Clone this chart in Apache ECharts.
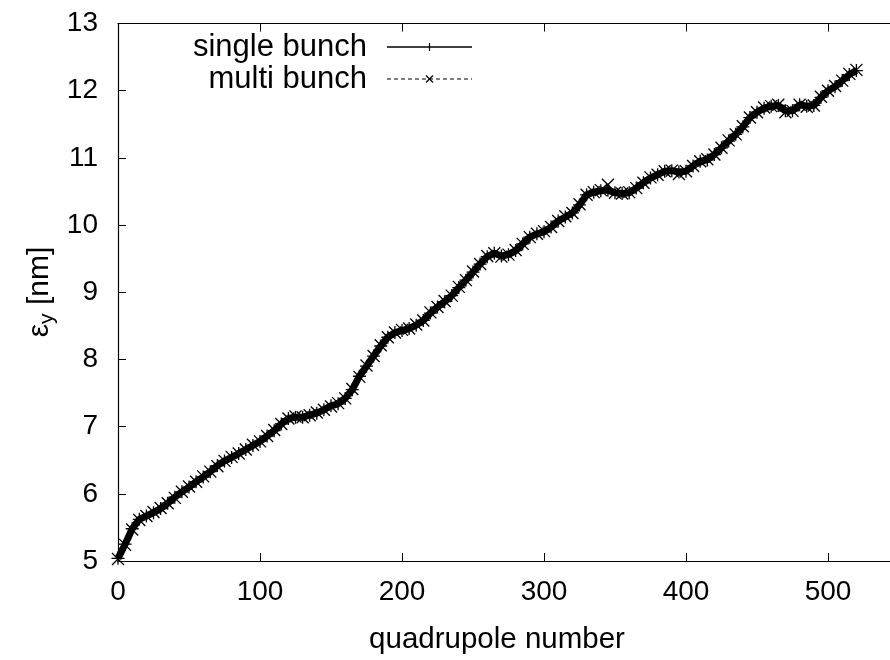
<!DOCTYPE html>
<html>
<head>
<meta charset="utf-8">
<script src="https://cdn.jsdelivr.net/npm/echarts@6/dist/echarts.min.js"></script>
<style>html,body{margin:0;padding:0;background:#fff}#c{width:890px;height:660px}</style>
</head>
<body>
<div id="c"></div>
<script>
const quadrupoles = [0,5,10,15,20,25,30,35,40,45,50,55,60,65,70,75,80,85,90,95,100,105,110,115,120,125,130,135,140,145,150,155,160,165,170,175,180,185,190,195,200,205,210,215,220,225,230,235,240,245,250,255,260,265,270,275,280,285,290,295,300,305,310,315,320,325,330,335,340,345,350,355,360,365,370,375,380,385,390,395,400,405,410,415,420,425,430,435,440,445,450,455,460,465,470,475,480,485,490,495,500,505,510,515,520];
const singleBunch = [5.04,5.25,5.48,5.62,5.67,5.72,5.78,5.86,5.95,6.03,6.10,6.18,6.25,6.33,6.42,6.49,6.54,6.60,6.66,6.72,6.78,6.86,6.94,7.04,7.12,7.14,7.14,7.17,7.20,7.25,7.31,7.34,7.42,7.55,7.75,7.90,8.05,8.20,8.33,8.40,8.43,8.46,8.51,8.58,8.69,8.78,8.86,8.95,9.07,9.18,9.30,9.42,9.53,9.58,9.54,9.56,9.62,9.72,9.82,9.87,9.90,9.97,10.06,10.12,10.18,10.30,10.45,10.49,10.51,10.52,10.48,10.47,10.48,10.55,10.63,10.70,10.75,10.80,10.81,10.79,10.80,10.88,10.95,10.97,11.05,11.15,11.25,11.35,11.46,11.60,11.68,11.74,11.77,11.78,11.70,11.70,11.79,11.77,11.78,11.90,12.00,12.06,12.15,12.24,12.30];
const multiBunch = [5.03,5.24,5.47,5.61,5.67,5.73,5.79,5.86,5.94,6.03,6.11,6.18,6.26,6.33,6.41,6.49,6.55,6.60,6.66,6.73,6.78,6.86,6.95,7.04,7.12,7.15,7.14,7.17,7.21,7.25,7.30,7.35,7.42,7.56,7.74,7.91,8.05,8.21,8.33,8.40,8.44,8.46,8.52,8.58,8.70,8.78,8.87,8.95,9.08,9.18,9.31,9.42,9.54,9.58,9.53,9.56,9.63,9.72,9.82,9.87,9.91,9.97,10.06,10.13,10.18,10.31,10.45,10.49,10.52,10.60,10.48,10.47,10.49,10.55,10.63,10.71,10.75,10.80,10.81,10.76,10.80,10.88,10.95,10.98,11.05,11.15,11.26,11.35,11.47,11.60,11.68,11.75,11.77,11.79,11.68,11.70,11.79,11.76,11.78,11.91,12.00,12.07,12.15,12.25,12.31];
const xTicks = [0,100,200,300,400,500,600];
const yTicks = [5,6,7,8,9,10,11,12,13];
const seriesNames = ['single bunch','multi bunch'];

const FONT = 'Liberation Sans, Arial, sans-serif';
const plusPath = 'path://M0,5L10,5M5,0L5,10';
const crossPath = 'path://M0,0L10,10M10,0L0,10';

const chart = echarts.init(document.getElementById('c'), null, {renderer:'canvas'});
const gridLeft = 118, gridTop = 23.5, gridBottom = 99;
const xMin = xTicks[0], xMax = xTicks[xTicks.length-1];
const gridRight = 890 - gridLeft - 142 * (xMax - xMin) / 100;

function pairs(xs, ys){ return xs.map((x,i)=>[x, ys[i]]); }

const axisLine = {show:true, lineStyle:{color:'#000', width:1.2}};
const option = {
  animation:false,
  backgroundColor:'#fff',
  grid:{left:gridLeft, top:gridTop, right:gridRight, bottom:gridBottom, containLabel:false, outerBoundsMode:'none'},
  xAxis:[{
    type:'value', min:xMin, max:xMax, interval:100, position:'bottom',
    axisLine:axisLine,
    axisTick:{show:true, inside:true, length:8, lineStyle:{color:'#000'}},
    axisLabel:{show:true, color:'#000', fontFamily:FONT, fontSize:28, margin:17,
      formatter:v=> xTicks.includes(v) ? String(v) : ''},
    splitLine:{show:false}
  },{
    type:'value', min:xMin, max:xMax, interval:100, position:'top',
    axisLine:axisLine,
    axisTick:{show:true, inside:true, length:8, lineStyle:{color:'#000'}},
    axisLabel:{show:false}, splitLine:{show:false}
  }],
  yAxis:[{
    type:'value', min:yTicks[0], max:yTicks[yTicks.length-1], interval:1,
    axisLine:axisLine,
    axisTick:{show:true, inside:true, length:8, lineStyle:{color:'#000'}},
    axisLabel:{show:true, color:'#000', fontFamily:FONT, fontSize:28, margin:20,
      formatter:v=> yTicks.includes(v) ? String(v) : ''},
    splitLine:{show:false}
  }],
  series:[{
    name:seriesNames[0], type:'line', xAxisIndex:0, yAxisIndex:0,
    data:pairs(quadrupoles, singleBunch),
    symbol:plusPath, symbolSize:13, showSymbol:true,
    lineStyle:{color:'#000', width:7, type:'solid'},
    itemStyle:{color:'rgba(0,0,0,0)', borderColor:'#000', borderWidth:1.3},
    z:3
  },{
    name:seriesNames[1], type:'line', xAxisIndex:0, yAxisIndex:0,
    data:pairs(quadrupoles, multiBunch),
    symbol:crossPath, symbolSize:12, showSymbol:true,
    lineStyle:{color:'#000', width:1.5, type:[4,3]},
    itemStyle:{color:'rgba(0,0,0,0)', borderColor:'#000', borderWidth:1.3},
    z:4
  }],
  graphic:[
    {type:'text', x:367, y:47, style:{text:seriesNames[0], fill:'#000', font:'31px '+FONT, textAlign:'right', textVerticalAlign:'middle'}},
    {type:'line', shape:{x1:387, y1:47, x2:472, y2:47}, style:{stroke:'#000', lineWidth:1.3}},
    {type:'line', shape:{x1:429.5, y1:43, x2:429.5, y2:51}, style:{stroke:'#000', lineWidth:1.2}},
    {type:'text', x:367, y:79, style:{text:seriesNames[1], fill:'#000', font:'31px '+FONT, textAlign:'right', textVerticalAlign:'middle'}},
    {type:'line', shape:{x1:387, y1:79, x2:472, y2:79}, style:{stroke:'#000', lineWidth:1.2, lineDash:[4,3]}},
    {type:'line', shape:{x1:426, y1:75.5, x2:433, y2:82.5}, style:{stroke:'#000', lineWidth:1.2}},
    {type:'line', shape:{x1:433, y1:75.5, x2:426, y2:82.5}, style:{stroke:'#000', lineWidth:1.2}},
    {type:'text', x:497, y:640, style:{text:'quadrupole number', fill:'#000', font:'29.5px '+FONT, textAlign:'center', textVerticalAlign:'middle'}},
    {type:'text', x:40, y:292, rotation:Math.PI/2,
      style:{text:'{e|ε}{s|y}{n| [nm]}', textAlign:'center', textVerticalAlign:'middle',
        rich:{e:{fontSize:30, fontFamily:FONT, fill:'#000', color:'#000'},
              s:{fontSize:21, fontFamily:FONT, color:'#000', fill:'#000', padding:[15,0,0,0]},
              n:{fontSize:30, fontFamily:FONT, color:'#000', fill:'#000'}}}}
  ]
};
chart.setOption(option);
</script>
</body>
</html>
